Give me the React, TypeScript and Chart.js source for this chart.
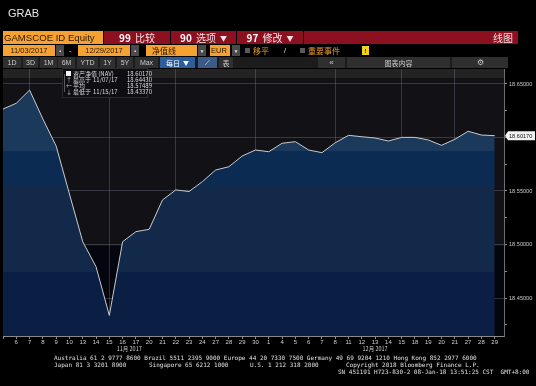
import React, { useEffect, useRef } from 'react';
import { Chart, registerables } from 'chart.js';
Chart.register(...registerables);

// ---------- data ----------
const DATES = [
  '11/03', '11/06', '11/07', '11/08', '11/09', '11/10', '11/13', '11/14', '11/15', '11/16',
  '11/17', '11/20', '11/21', '11/22', '11/23', '11/24', '11/27', '11/28', '11/29', '11/30',
  '12/01', '12/04', '12/05', '12/06', '12/07', '12/08', '12/11', '12/12', '12/13', '12/14',
  '12/15', '12/18', '12/19', '12/20', '12/21', '12/27', '12/28', '12/29',
];
const NAV = [
  18.6266, 18.6320, 18.6443, 18.6173, 18.5920, 18.5472, 18.5026, 18.4793, 18.4337, 18.5026,
  18.5120, 18.5142, 18.5416, 18.5510, 18.5495, 18.5587, 18.5696, 18.5727, 18.5827, 18.5883,
  18.5867, 18.5946, 18.5961, 18.5883, 18.5858, 18.5951, 18.6020, 18.6007, 18.5995, 18.5967,
  18.6001, 18.6001, 18.5977, 18.5927, 18.5983, 18.6058, 18.6023, 18.6017,
];
const GRID_DATES = ['11/07', '11/15', '11/22', '11/30', '12/08', '12/15', '12/21'];
const Y_TICKS = [18.425, 18.45, 18.475, 18.5, 18.525, 18.55, 18.575, 18.6, 18.625, 18.65];
const MONTH_LABELS = ['11月 2017', '12月 2017'];
const MONTH_CENTERS = [9.5, 28];
const LEGEND_NAMES = ['资产净值 (NAV)', '最高于', '平均', '最低于'];
const LEGEND_DATES = ['', '11/07/17', '', '11/15/17'];
const LEGEND_VALUES = ['18.60170', '18.64430', '18.57489', '18.43370'];
const LEGEND_MARKS = ['', '↑', '←', '↓'];

const Y_MIN = 18.4145;
const Y_MAX = 18.664;
const X_MAX = 37.7;

const FONT = '"Liberation Sans", "Noto Sans CJK SC", sans-serif';
const CJK = '"Noto Sans CJK SC", "Liberation Sans", sans-serif';

const GRID_SET = new Set(GRID_DATES.map((d) => DATES.indexOf(d)));
const dayLabel = (i: number) => String(parseInt(DATES[i].split('/')[1], 10));

const bgPlugin = {
  id: 'bgBands',
  beforeDraw(chart: any) {
    const { ctx, chartArea: a, scales } = chart;
    const y = scales.y;
    ctx.save();
    ctx.fillStyle = '#000';
    ctx.fillRect(0, 0, chart.width, chart.height);
    const edges = [a.top, y.getPixelForValue(18.6555), y.getPixelForValue(18.4985), a.bottom];
    const cols = ['#232323', '#121216', '#05050d'];
    for (let i = 0; i < cols.length; i++) {
      ctx.fillStyle = cols[i];
      ctx.fillRect(a.left, edges[i], a.right - a.left, edges[i + 1] - edges[i]);
    }
    ctx.restore();
  },
};

const overlayPlugin = {
  id: 'overlay',
  afterDraw(chart: any) {
    const { ctx, scales } = chart;
    const x = scales.x;
    const y = scales.y;
    ctx.save();
    // month labels
    ctx.fillStyle = '#cfcfcf';
    ctx.font = `5.5px ${CJK}`;
    ctx.textAlign = 'center';
    ctx.textBaseline = 'middle';
    MONTH_LABELS.forEach((m, i) => {
      ctx.fillText(m, x.getPixelForValue(MONTH_CENTERS[i]), 348.5);
    });
    // last value marker
    const last = NAV[NAV.length - 1];
    const py = y.getPixelForValue(last);
    const x0 = y.left + 1;
    ctx.fillStyle = '#f2f2f2';
    ctx.beginPath();
    ctx.moveTo(x0, py);
    ctx.lineTo(x0 + 3, py - 4.5);
    ctx.lineTo(chart.width - 1, py - 4.5);
    ctx.lineTo(chart.width - 1, py + 4.5);
    ctx.lineTo(x0 + 3, py + 4.5);
    ctx.closePath();
    ctx.fill();
    ctx.fillStyle = '#111';
    ctx.font = `5.6px ${FONT}`;
    ctx.textAlign = 'left';
    ctx.fillText(LEGEND_VALUES[0], x0 + 4, py + 0.5);
    // legend box
    ctx.fillStyle = 'rgba(14,14,18,0.95)';
    ctx.fillRect(62, 68, 86, 30);
    ctx.strokeStyle = '#2a2a2e';
    ctx.lineWidth = 1;
    ctx.strokeRect(62.5, 68.5, 85, 29);
    ctx.strokeStyle = '#5a5a5a';
    ctx.beginPath();
    ctx.moveTo(64.5, 74);
    ctx.lineTo(64.5, 92);
    ctx.stroke();
    const rows = [73.5, 80, 86, 92];
    ctx.font = `6px ${CJK}`;
    LEGEND_NAMES.forEach((n, i) => {
      const ry = rows[i];
      if (i === 0) {
        ctx.fillStyle = '#f4f4f4';
        ctx.fillRect(66, ry - 2.5, 5, 5);
      } else {
        ctx.fillStyle = '#bdbdbd';
        ctx.fillText(LEGEND_MARKS[i], 66, ry);
      }
      ctx.fillStyle = '#dcdcdc';
      ctx.fillText(n, 73, ry);
      if (LEGEND_DATES[i]) ctx.fillText(LEGEND_DATES[i], 93, ry);
      ctx.fillText(LEGEND_VALUES[i], 127, ry);
    });
    ctx.restore();
  },
};

function fillGradient(c: any) {
  const chart = c.chart;
  const a = chart.chartArea;
  if (!a) return '#13294a';
  const y = chart.scales.y;
  const H = a.bottom - a.top;
  const g = chart.ctx.createLinearGradient(0, a.top, 0, a.bottom);
  const edges = [a.top, y.getPixelForValue(18.587), y.getPixelForValue(18.5545), y.getPixelForValue(18.474), a.bottom];
  const cols = ['#1b395a', '#0b2b52', '#13294a', '#0b1f45'];
  const cl = (v: number) => Math.max(0, Math.min(1, v));
  for (let i = 0; i < cols.length; i++) {
    g.addColorStop(cl((edges[i] - a.top) / H), cols[i]);
    g.addColorStop(cl((edges[i + 1] - a.top) / H - 0.0005), cols[i]);
  }
  return g;
}

const GRID_COLOR = 'rgba(125,135,155,0.34)';

export default function App() {
  const ref = useRef<HTMLCanvasElement>(null);
  useEffect(() => {
    const chart = new Chart(ref.current!, {
      type: 'line',
      data: {
        datasets: [
          {
            data: NAV.map((v, i) => ({ x: i, y: v })),
            borderColor: '#c8cbd0',
            borderWidth: 1,
            pointRadius: 0,
            tension: 0,
            fill: 'start',
            backgroundColor: fillGradient,
          },
        ],
      },
      options: {
        animation: false,
        responsive: false,
        devicePixelRatio: 1,
        layout: { padding: { left: 3, top: 69, right: 0, bottom: 36 } },
        plugins: { legend: { display: false }, tooltip: { enabled: false } },
        scales: {
          x: {
            type: 'linear',
            min: 0,
            max: X_MAX,
            z: 1,
            afterFit: (s: any) => { s.height = 14; },
            afterBuildTicks: (s: any) => { s.ticks = DATES.map((_, i) => ({ value: i })); },
            grid: {
              color: (c: any) => (c.tick && GRID_SET.has(c.tick.value) ? GRID_COLOR : 'rgba(0,0,0,0)'),
              tickColor: '#8a8a8a',
              tickLength: 3,
              lineWidth: 1,
            },
            border: { display: true, color: '#8a8a8a', width: 1 },
            ticks: {
              autoSkip: false,
              maxRotation: 0,
              padding: 0,
              color: '#cfcfcf',
              font: { size: 6, family: FONT },
              callback: (v: any) => (v === 0 ? '' : dayLabel(v)),
            },
          },
          y: {
            type: 'linear',
            position: 'right',
            min: Y_MIN,
            max: Y_MAX,
            z: 1,
            afterFit: (s: any) => { s.width = 32; },
            afterBuildTicks: (s: any) => { s.ticks = Y_TICKS.map((v) => ({ value: v })); },
            grid: {
              color: (c: any) => {
                const v = c.tick ? c.tick.value : 0;
                return Math.abs(v * 20 - Math.round(v * 20)) < 1e-6 ? GRID_COLOR : 'rgba(0,0,0,0)';
              },
              tickColor: '#8a8a8a',
              tickLength: 3,
            },
            border: { display: true, color: '#6e6e6e', width: 1 },
            ticks: {
              padding: 2,
              color: '#c8c8c8',
              font: { size: 5.6, family: FONT },
              callback: (v: any) => (Math.abs(v * 20 - Math.round(v * 20)) < 1e-6 ? Number(v).toFixed(5) : ''),
            },
          },
        },
      },
      plugins: [bgPlugin, overlayPlugin],
    } as any);
    return () => chart.destroy();
  }, []);

  const box = (x: number, y: number, w: number, h: number, bg: string, extra: any = {}) => ({
    position: 'absolute' as const,
    left: x,
    top: y,
    width: w,
    height: h,
    background: bg,
    display: 'flex',
    alignItems: 'center',
    whiteSpace: 'nowrap' as const,
    overflow: 'hidden',
    boxSizing: 'border-box' as const,
    ...extra,
  });

  const ORANGE = '#f6a233';
  const RED = '#8c1020';
  const RT = '#f3e2e2';
  const BTN = '#2f2f2f';
  const BT = '#c9c9c9';

  const mono = { fontFamily: '"DejaVu Sans Mono", monospace', fontSize: 6, color: '#e0e0e0', position: 'absolute' as const, whiteSpace: 'pre' as const, lineHeight: '7px' };

  return (
    <div style={{ position: 'fixed', left: 0, top: 0, width: 536, height: 386, background: '#000', overflow: 'hidden', fontFamily: FONT }}>
      <canvas ref={ref} width={536} height={386} style={{ position: 'absolute', left: 0, top: 0, width: 536, height: 386 }} />
      <div style={{ position: 'absolute', left: 8, top: 7, color: '#e6e6e6', fontSize: 11, fontFamily: FONT }}>GRAB</div>

      {/* row 1 */}
      <div style={box(3, 31, 100, 13, ORANGE, { color: '#2a1800', fontSize: 9.6, paddingLeft: 1 })}>GAMSCOE ID Equity</div>
      <div style={box(104, 31, 66, 13, RED, { color: RT, fontSize: 10, justifyContent: 'center', fontFamily: CJK })}><b style={{ color: '#fff', marginRight: 4 }}>99</b>比较</div>
      <div style={box(171, 31, 65, 13, RED, { color: RT, fontSize: 10, justifyContent: 'center', fontFamily: CJK })}><b style={{ color: '#fff', marginRight: 4 }}>90</b>选项<span style={{ fontSize: 7, marginLeft: 4 }}>▼</span></div>
      <div style={box(237, 31, 66, 13, RED, { color: RT, fontSize: 10, justifyContent: 'center', fontFamily: CJK })}><b style={{ color: '#fff', marginRight: 4 }}>97</b>修改<span style={{ fontSize: 7, marginLeft: 4 }}>▼</span></div>
      <div style={box(304, 31, 214, 13, RED, { color: RT, fontSize: 10, justifyContent: 'flex-end', paddingRight: 5, fontFamily: CJK })}>线图</div>

      {/* row 2 */}
      <div style={box(3, 45, 52, 11, ORANGE, { color: '#2a1800', fontSize: 7.5, justifyContent: 'center' })}>11/03/2017</div>
      <div style={box(56, 45, 8, 11, '#4a4a4a', { color: '#ddd', fontSize: 6, justifyContent: 'center' })}>▪</div>
      <div style={box(69, 45, 6, 11, 'transparent', { color: '#ddd', fontSize: 8 })}>-</div>
      <div style={box(78, 45, 52, 11, ORANGE, { color: '#2a1800', fontSize: 7.5, justifyContent: 'center' })}>12/29/2017</div>
      <div style={box(131, 45, 8, 11, '#4a4a4a', { color: '#ddd', fontSize: 6, justifyContent: 'center' })}>▪</div>
      <div style={box(146, 45, 51, 11, ORANGE, { color: '#2a1800', fontSize: 8, paddingLeft: 6, fontFamily: CJK })}>净值线</div>
      <div style={box(198, 45, 8, 11, '#4a4a4a', { color: '#ddd', fontSize: 5, justifyContent: 'center' })}>▼</div>
      <div style={box(210, 45, 20, 11, ORANGE, { color: '#2a1800', fontSize: 7.5, paddingLeft: 1 })}>EUR</div>
      <div style={box(232, 45, 8, 11, '#4a4a4a', { color: '#ddd', fontSize: 5, justifyContent: 'center' })}>▼</div>
      <div style={box(245, 48, 5, 5, '#5a5a5a')} />
      <div style={box(253, 45, 24, 11, 'transparent', { color: '#e99a2c', fontSize: 8, fontFamily: CJK })}>移平</div>
      <div style={box(284, 45, 8, 11, 'transparent', { color: '#eee', fontSize: 7 })}>/</div>
      <div style={box(300, 48, 5, 5, '#5a5a5a')} />
      <div style={box(308, 45, 42, 11, 'transparent', { color: '#e99a2c', fontSize: 8, fontFamily: CJK })}>重要事件</div>
      <div style={box(362, 46, 7, 9, '#f3d21a', { color: '#222', fontSize: 6, justifyContent: 'center', fontWeight: 'bold' })}>!</div>

      {/* row 3 */}
      <div style={box(3, 57, 505, 11, '#1c1c1c')} />
      {[
        ['1D', 3, 18], ['3D', 23, 15], ['1M', 40, 17], ['6M', 58, 17], ['YTD', 77, 21], ['1Y', 100, 15], ['5Y', 117, 16], ['Max', 135, 23],
      ].map(([t, x, w]) => (
        <div key={t as string} style={box(x as number, 57, w as number, 11, BTN, { color: BT, fontSize: 7, justifyContent: 'center' })}>{t}</div>
      ))}
      <div style={box(160, 57, 35, 11, '#2c5e9e', { color: '#fff', fontSize: 7, justifyContent: 'center', fontFamily: CJK })}>每日 <span style={{ fontSize: 6, marginLeft: 3 }}>▼</span></div>
      <div style={box(198, 57, 19, 11, '#3b5b86', { color: '#cfe', fontSize: 7, justifyContent: 'center' })}>⟋</div>
      <div style={box(219, 57, 14, 11, BTN, { color: BT, fontSize: 7, justifyContent: 'center', fontFamily: CJK })}>表</div>
      <div style={box(318, 57, 27, 11, BTN, { color: BT, fontSize: 8, justifyContent: 'center' })}>«</div>
      <div style={box(347, 57, 103, 11, BTN, { color: BT, fontSize: 7, justifyContent: 'center', fontFamily: CJK })}>图表内容</div>
      <div style={box(452, 57, 56, 11, BTN, { color: BT, fontSize: 8, justifyContent: 'center' })}>⚙</div>

      {/* footer */}
      <div style={{ ...mono, left: 54, top: 354 }}>Australia 61 2 9777 8600 Brazil 5511 2395 9000 Europe 44 20 7330 7500 Germany 49 69 9204 1210 Hong Kong 852 2977 6000</div>
      <div style={{ ...mono, left: 54, top: 361 }}>Japan 81 3 3201 8900</div>
      <div style={{ ...mono, left: 149, top: 361 }}>Singapore 65 6212 1000</div>
      <div style={{ ...mono, left: 250, top: 361 }}>U.S. 1 212 318 2000</div>
      <div style={{ ...mono, left: 346, top: 361 }}>Copyright 2018 Bloomberg Finance L.P.</div>
      <div style={{ ...mono, left: 338, top: 368 }}>SN 451191 H723-830-2 08-Jan-18 13:51:25 CST  GMT+8:00</div>
    </div>
  );
}
